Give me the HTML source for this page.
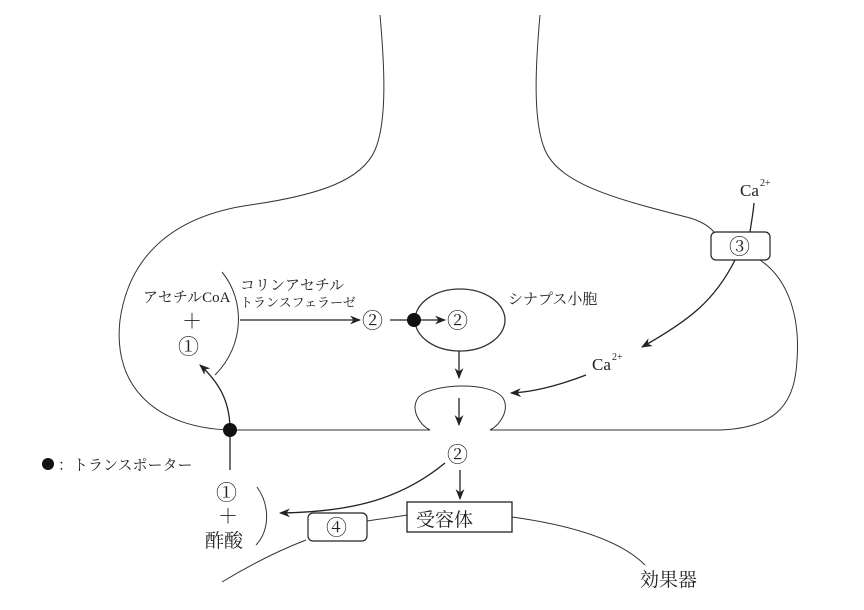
<!DOCTYPE html>
<html><head><meta charset="utf-8"><style>
html,body{margin:0;padding:0;background:#fff}
svg{display:block}
text{font-family:"Liberation Serif","Noto Serif CJK SC","Noto Sans CJK JP",serif;fill:#222}
.c{font-size:21px}
</style></head><body>
<svg width="864" height="610" viewBox="0 0 864 610" xmlns="http://www.w3.org/2000/svg">
<defs>
<marker id="a" viewBox="0 0 10 10" refX="9" refY="5" markerWidth="11" markerHeight="11" orient="auto" markerUnits="userSpaceOnUse"><path d="M0,1 L10,5 L0,9 L3,5z" fill="#222"/></marker>
</defs>
<g fill="none" stroke="#333" stroke-width="1">
<path d="M380,15 C384,60 388,120 375,150 C362,180 320,195 250,205 C180,215 130,250 120,320 C112,390 160,428 230,430 L430,430"/>
<path d="M540,15 C536,60 532,120 545,150 C560,185 620,200 690,218 C700,221 708,225 714,232"/>
<path d="M760,260 C790,280 800,320 797,360 C795,400 780,428 720,430 L490,430"/>
<path d="M430,430 C420,425 410,410 418,398 C428,384 490,380 503,398 C510,410 500,425 490,430"/>
<ellipse cx="460" cy="320" rx="45" ry="31" stroke-width="1.3"/>
<path d="M222,272 C245,300 245,345 215,375"/>
<path d="M257,487 C270,505 270,530 256,545"/>
<path d="M222,582 C250,565 280,550 306,540"/>
<path d="M367,521 L408,515"/>
<path d="M512,517 C570,525 620,540 645,565"/>
</g>
<g stroke="#222" stroke-width="1.3" fill="none">
<path d="M240,320 L360,320" marker-end="url(#a)"/>
<path d="M390,320 L445,320" marker-end="url(#a)"/>
<path d="M459,351 L459,378" marker-end="url(#a)"/>
<path d="M459,398 L459,425" marker-end="url(#a)"/>
<path d="M230,430 C230,405 222,385 200,365" marker-end="url(#a)"/>
<path d="M230,437 L230,470"/>
<path d="M460,470 L460,499" marker-end="url(#a)"/>
<path d="M445,463 C400,500 350,512 280,513" marker-end="url(#a)"/>
<path d="M754,203 C753,215 751,224 750,232"/>
<path d="M735,260 C715,300 690,320 642,347" marker-end="url(#a)"/>
<path d="M586,375 C560,385 535,392 511,393" marker-end="url(#a)"/>
</g>
<circle cx="230" cy="430" r="7" fill="#111"/>
<circle cx="414" cy="320" r="7" fill="#111"/>
<circle cx="48" cy="464" r="6" fill="#111"/>
<rect x="711" y="232" width="59" height="28" rx="5" fill="#fff" stroke="#222" stroke-width="1.2"/>
<rect x="308" y="513" width="59" height="28" rx="5" fill="#fff" stroke="#222" stroke-width="1.2"/>
<rect x="407" y="502" width="105" height="30" fill="#fff" stroke="#222" stroke-width="1.3"/>
<g font-size="15">
<text x="143" y="302">アセチルCoA</text>
<text x="182" y="328" font-size="20">＋</text>
<text x="178" y="354" class="c">①</text>
<text x="362" y="328" class="c">②</text>
<text x="447" y="328" class="c">②</text>
<text x="240" y="290">コリンアセチル</text>
<text x="240" y="307" font-size="13">トランスフェラーゼ</text>
<text x="508" y="304">シナプス小胞</text>
<text x="447" y="462" class="c">②</text>
<text x="729" y="254" class="c">③</text>
<text x="326" y="535" class="c">④</text>
<text x="416" y="526" font-size="19">受容体</text>
<text x="592" y="370" font-size="17">Ca</text><text x="612" y="360" font-size="10">2+</text>
<text x="740" y="196" font-size="17">Ca</text><text x="760" y="186" font-size="10">2+</text>
<text x="58" y="470">：トランスポーター</text>
<text x="216" y="500" class="c">①</text>
<text x="218" y="523" font-size="20">＋</text>
<text x="205" y="547" font-size="19">酢酸</text>
<text x="640" y="586" font-size="19">効果器</text>
</g>
</svg>
</body></html>
